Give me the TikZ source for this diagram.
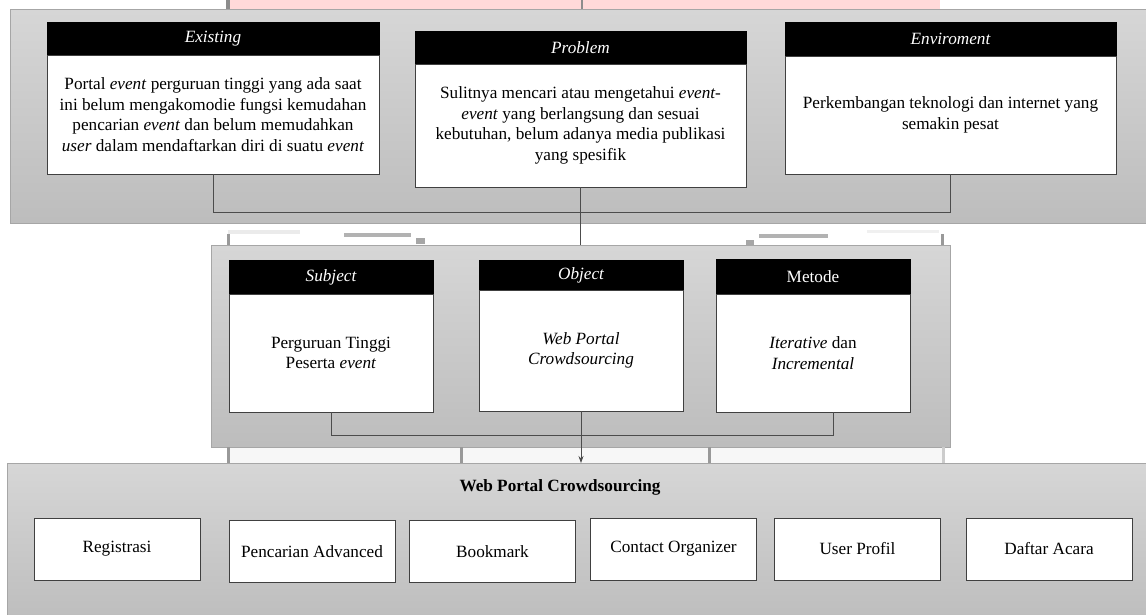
\documentclass[tikz,border=0pt]{standalone}
\usepackage{fontspec}
\setmainfont{Liberation Serif}
\usetikzlibrary{positioning,arrows.meta}
\begin{document}
\begin{tikzpicture}[x=1pt, y=-1pt, >={Stealth[length=7pt,width=5pt]}]
\tikzstyle{every node}=[font=\fontsize{17.2}{20.7}\selectfont, inner sep=0pt, outer sep=0pt]
\tikzstyle{panel}=[draw=black!35, top color=black!16, bottom color=black!26]
\tikzstyle{hd}=[fill=black, draw=black, text=white, font=\fontsize{17.2}{20.7}\selectfont\itshape]
\tikzstyle{bd}=[fill=white, draw=black!75, line width=1pt, align=center]
\tikzstyle{fitur}=[bd, minimum width=166pt, minimum height=62pt]
\tikzstyle{con}=[draw=black!70, line width=0.8pt]
\tikzstyle{stub}=[black!40, line width=3pt]
\useasboundingbox (0,0) rectangle (1146,614);

% sisa baris teks di atas
\fill[pink!60] (230,0) rectangle (940,9);
\fill[black!45] (226,0) rectangle (230,9);
\fill[black!45] (581,0) rectangle (583,9);

% panel
\node[panel, minimum width=1150pt, minimum height=214pt] (atas) at (585,116) {};
\fill[black!3] (228,447) rectangle (943,463);
\node[panel, minimum width=739pt, minimum height=202pt] (mid) at (580.5,346) {};
\node[panel, minimum width=1153pt, minimum height=162pt] (base) at (583.5,544) {};
\draw[stub] (228,447) -- (228,463);
\draw[stub] (461,447) -- (461,463);
\draw[stub] (709,447) -- (709,463);
\draw[stub, black!20] (943,447) -- (943,463);
\fill[black!8] (228,230) rectangle (300,234);
\fill[black!30] (344,233) rectangle (411,237);
\fill[black!35] (416,238) rectangle (425,244);
\fill[black!35] (746,240) rectangle (754,245);
\fill[black!30] (759,234) rectangle (828,238);
\fill[black!6] (867,230) rectangle (939,233);
\draw[stub] (228,234) -- (228,245);
\draw[stub] (942,234) -- (942,245);

% baris atas
\node[hd, minimum width=332pt, minimum height=33pt] (exHd) at (213,38.5) {Existing};
\node[bd, minimum width=332pt, minimum height=119pt] (exBd) [below=0pt of exHd] {Portal \textit{event} perguruan tinggi yang ada saat\\ ini belum mengakomodie fungsi kemudahan\\ pencarian \textit{event} dan belum memudahkan\\ \textit{user} dalam mendaftarkan diri di suatu \textit{event}};
\node[hd, minimum width=331pt, minimum height=33pt] (prHd) at (580.5,47.5) {Problem};
\node[bd, minimum width=331pt, minimum height=123pt] (prBd) [below=0pt of prHd] {Sulitnya mencari atau mengetahui \textit{event-}\\ \textit{event} yang berlangsung dan sesuai\\ kebutuhan, belum adanya media publikasi\\ yang spesifik};
\node[hd, minimum width=331pt, minimum height=34pt] (enHd) at (950.5,39) {Enviroment};
\node[bd, minimum width=331pt, minimum height=118pt] (enBd) [below=0pt of enHd] {Perkembangan teknologi dan internet yang\\ semakin pesat};
\draw[con] (exBd.south) -- ++(0,38) -| (enBd.south);
\draw[con] (prBd.south) -- (prBd.south |- mid.north);

% baris tengah
\node[hd, minimum width=204pt, minimum height=34pt] (subHd) at (331,277) {Subject};
\node[bd, minimum width=204pt, minimum height=118pt] (subBd) [below=0pt of subHd] {Perguruan Tinggi\\ Peserta \textit{event}};
\node[hd, minimum width=204pt, minimum height=30pt] (objHd) at (581,275) {Object};
\node[bd, minimum width=204pt, minimum height=121pt] (objBd) [below=0pt of objHd] {\textit{Web Portal}\\ \textit{Crowdsourcing}};
\node[hd, minimum width=194pt, minimum height=35pt, font=\fontsize{17.2}{20.7}\selectfont] (metHd) at (813,276.5) {Metode};
\node[bd, minimum width=194pt, minimum height=118pt] (metBd) [below=0pt of metHd] {\textit{Iterative} dan\\ \textit{Incremental}};
\draw[con] (subBd.south) -- ++(0,23) -| ([xshift=20pt]metBd.south);
\draw[con,->] (objBd.south) -- (objBd.south |- base.north);

% baris bawah
\node[font=\fontsize{17.2}{20.7}\selectfont\bfseries] (judul) at (560,487) {Web Portal Crowdsourcing};
\node[fitur] (reg) at (117,549) {Registrasi};
\node[fitur] (cari) at (312,551.5) {Pencarian Advanced};
\node[fitur] (mark) at (492.5,551.5) {Bookmark};
\node[fitur] (kontak) at (673.5,549) {Contact Organizer};
\node[fitur] (profil) at (857.5,549) {User Profil};
\node[fitur] (acara) at (1049,549) {Daftar Acara};
\end{tikzpicture}
\end{document}
